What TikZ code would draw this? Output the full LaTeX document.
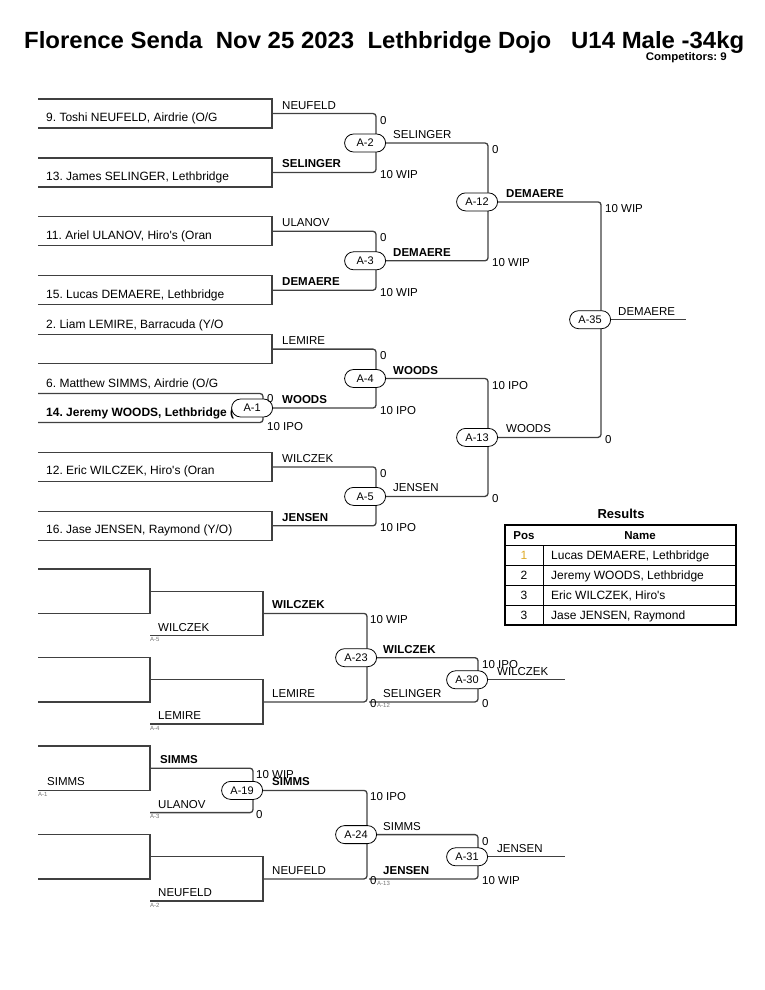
\documentclass[tikz,border=0pt]{standalone}
\usepackage{graphicx}
\usepackage{fontspec}
\setmainfont{Liberation Sans}
\usetikzlibrary{positioning,shapes.misc,backgrounds}
\definecolor{gold}{RGB}{222,170,40}
\frenchspacing

\begin{document}
\begin{tikzpicture}[x=1pt,y=-1pt,
    wire/.style={draw=black!75,line width=1.3pt,rounded corners=3pt},
    slot/.style={draw=black!75,line width=1.3pt},
    bout/.style={rounded rectangle,draw,line width=0.8pt,fill=white,minimum width=41pt,minimum height=18pt,inner sep=0pt,font=\fontsize{11}{13}\selectfont},
    txt/.style={anchor=base west,inner sep=0pt,font=\fontsize{11.5}{13}\selectfont},
    win/.style={txt,font=\fontsize{11.5}{13}\selectfont\bfseries},
    entry/.style={txt,font=\fontsize{12}{14}\selectfont},
    src/.style={anchor=north west,inner sep=0pt,text=black!55,font=\fontsize{6}{6}\selectfont},
    cell/.style={anchor=base,inner sep=0pt,font=\fontsize{12}{14}\selectfont}]
  \useasboundingbox (0,0) rectangle (765,990);

  % header
  \node[anchor=base west,inner sep=0pt] (title) at (24,48.5)
    {\resizebox{720pt}{17pt}{\bfseries Florence Senda\ \ Nov 25 2023\ \ Lethbridge Dojo\ \ \ U14 Male -34kg}};
  \node[anchor=base east,inner sep=0pt] (count) at (727,60.7)
    {\resizebox{81pt}{8pt}{\bfseries Competitors: 9}};

  % first round slots
  \foreach \k/\t in {0/99,1/157.9,2/216.8,3/275.7,4/334.6,6/452.4,7/511.3}{
    \draw[slot] (38,\t) -- (272,\t) -- (272,\t+29) -- (38,\t+29);
    \coordinate (p\k) at (272,\t+14.5);
  }

  % competitors
  \node[entry] (n9) at (46,121.5) {9. Toshi NEUFELD, Airdrie (O/G};
  \node[entry] (n13) at (46,180.4) {13. James SELINGER, Lethbridge};
  \node[entry] (n11) at (46,239.3) {11. Ariel ULANOV, Hiro\textquotesingle s (Oran};
  \node[entry] (n15) at (46,298.2) {15. Lucas DEMAERE, Lethbridge};
  \node[entry] (n2) at (46,328.1) {2. Liam LEMIRE, Barracuda (Y/O};
  \node[entry] (n6) at (46,387) {6. Matthew SIMMS, Airdrie (O/G};
  \node[entry,font=\fontsize{12}{14}\selectfont\bfseries] (n14) at (46,416) {14. Jeremy WOODS, Lethbridge (};
  \node[entry] (n12) at (46,474.9) {12. Eric WILCZEK, Hiro\textquotesingle s (Oran};
  \node[entry] (n16) at (46,533.8) {16. Jase JENSEN, Raymond (Y/O)};

  % match spines
  \coordinate (c1) at (263,408);
  \coordinate (c2) at (376,143);
  \coordinate (c3) at (376,260.8);
  \coordinate (c4) at (376,378.5);
  \coordinate (c5) at (376,496.4);
  \coordinate (c12) at (488,201.9);
  \coordinate (c13) at (488,437.4);
  \coordinate (c35) at (601,319.7);
  \coordinate (c23) at (367,657.7);
  \coordinate (c30) at (478,679.8);
  \coordinate (c19) at (253,790.4);
  \coordinate (c24) at (367,834.6);
  \coordinate (c31) at (478,856.8);
  \coordinate (champ) at (686,319.7);
  \coordinate (w30) at (565,679.8);
  \coordinate (w31) at (565,856.8);
  \coordinate (l12) at (369,701.9);
  \coordinate (l13) at (369,878.9);

  \foreach \m in {1,2,3,4,5,12,13,35,23,30,19,24,31}
    \node[bout,left=-10pt of c\m] (a\m) {A-\m};

  \begin{scope}[on background layer]
    \draw[wire] (38,393.5) -- (263,393.5) -- (263,422.5) -- (38,422.5);
    \draw[wire] (p0) -| (c2) |- (p1);
    \draw[wire] (p2) -| (c3) |- (p3);
    \draw[wire] (p4) -| (c4) |- (a1.east);
    \draw[wire] (p6) -| (c5) |- (p7);
    \draw[wire] (a2.east) -| (c12) |- (a3.east);
    \draw[wire] (a4.east) -| (c13) |- (a5.east);
    \draw[wire] (a12.east) -| (c35) |- (a13.east);
    \draw[wire] (a35.east) -- (champ);
    % repechage
    \foreach \g/\b in {1/569,2/657.5,4/834.5}{
      \draw[slot] (38,\b) -- (150,\b) -- (150,\b+44.4) -- (38,\b+44.4);
      \draw[slot] (150,\b+22.2) -- (263,\b+22.2) -- (263,\b+66.6) -- (150,\b+66.6);
      \coordinate (r\g) at (263,\b+44.4);
    }
    \draw[slot] (38,746) -- (150,746) -- (150,790.4) -- (38,790.4);
    \draw[wire] (150,768.2) -| (c19) |- (150,812.6);
    \draw[wire] (r1) -| (c23) |- (r2);
    \draw[wire] (a23.east) -| (c30) |- (l12);
    \draw[wire] (a30.east) -- (w30);
    \draw[wire] (a19.east) -| (c24) |- (r4);
    \draw[wire] (a24.east) -| (c31) |- (l13);
    \draw[wire] (a31.east) -- (w31);
  \end{scope}

  % names on the lines
  \node[txt] at (282,109) {NEUFELD};
  \node[win] at (282,167.9) {SELINGER};
  \node[txt] at (282,226.8) {ULANOV};
  \node[win] at (282,285.7) {DEMAERE};
  \node[txt] at (282,344.6) {LEMIRE};
  \node[win] at (282,403.5) {WOODS};
  \node[txt] at (282,462.4) {WILCZEK};
  \node[win] at (282,521.3) {JENSEN};
  \node[txt] at (393,138.5) {SELINGER};
  \node[win] at (393,256.3) {DEMAERE};
  \node[win] at (393,374) {WOODS};
  \node[txt] at (393,491.9) {JENSEN};
  \node[win] at (506,197.4) {DEMAERE};
  \node[txt] at (506,432.9) {WOODS};
  \node[txt] at (618,315.2) {DEMAERE};

  % scores
  \node[txt] at (267,402.5) {0};
  \node[txt] at (267,430) {10 IPO};
  \node[txt] at (380,124) {0};
  \node[txt] at (380,178.4) {10 WIP};
  \node[txt] at (380,241.8) {0};
  \node[txt] at (380,296.2) {10 WIP};
  \node[txt] at (380,359.6) {0};
  \node[txt] at (380,414) {10 IPO};
  \node[txt] at (380,477.4) {0};
  \node[txt] at (380,531.8) {10 IPO};
  \node[txt] at (492,153.5) {0};
  \node[txt] at (492,266.8) {10 WIP};
  \node[txt] at (492,389) {10 IPO};
  \node[txt] at (492,502.4) {0};
  \node[txt] at (605,212.4) {10 WIP};
  \node[txt] at (605,443.4) {0};

  % repechage texts
  \node[txt] at (158,631.1) {WILCZEK};
  \node[src] at (150,637.6) {A-5};
  \node[win] at (272,608.9) {WILCZEK};
  \node[txt] at (370,623.9) {10 WIP};
  \node[txt] at (158,719.6) {LEMIRE};
  \node[src] at (150,726.1) {A-4};
  \node[txt] at (272,697.4) {LEMIRE};
  \node[txt] at (370,707.9) {0};
  \node[src] at (377,703) {A-12};
  \node[win] at (383,653.1) {WILCZEK};
  \node[txt] at (482,668.1) {10 IPO};
  \node[txt] at (383,697.4) {SELINGER};
  \node[txt] at (482,707.9) {0};
  \node[txt] at (497,675.3) {WILCZEK};
  \node[txt] at (47,785.9) {SIMMS};
  \node[src] at (38,792.4) {A-1};
  \node[win] at (160,763.7) {SIMMS};
  \node[txt] at (158,808.1) {ULANOV};
  \node[src] at (150,814.6) {A-3};
  \node[txt] at (256,778.7) {10 WIP};
  \node[txt] at (256,818.6) {0};
  \node[win] at (272,785.9) {SIMMS};
  \node[txt] at (370,800.9) {10 IPO};
  \node[txt] at (158,896.6) {NEUFELD};
  \node[src] at (150,903.1) {A-2};
  \node[txt] at (272,874.4) {NEUFELD};
  \node[txt] at (370,884.9) {0};
  \node[src] at (377,881) {A-13};
  \node[txt] at (383,830.1) {SIMMS};
  \node[txt] at (482,845.1) {0};
  \node[win] at (383,874.4) {JENSEN};
  \node[txt] at (482,884.9) {10 WIP};
  \node[txt] at (497,852.2) {JENSEN};

  % results
  \node[cell,font=\fontsize{13}{15}\selectfont\bfseries] (res) at (621,518) {Results};
  \draw[line width=2pt] (505,525) rectangle (736,625);
  \foreach \y in {545,565,585,605} \draw[line width=1pt] (505,\y) -- (736,\y);
  \draw[line width=1pt] (543,545) -- (543,625);
  \node[cell,font=\fontsize{11.5}{13}\selectfont\bfseries] (hpos) at (524,539.5) {Pos};
  \node[cell,font=\fontsize{11.5}{13}\selectfont\bfseries] (hname) at (640,539.5) {Name};
  \node[cell,text=gold] (r1p) at (524,559.5) {1};
  \node[entry] (r1n) at (551,559.5) {Lucas DEMAERE, Lethbridge};
  \node[cell] (r2p) at (524,579.5) {2};
  \node[entry] (r2n) at (551,579.5) {Jeremy WOODS, Lethbridge};
  \node[cell] (r3p) at (524,599.5) {3};
  \node[entry] (r3n) at (551,599.5) {Eric WILCZEK, Hiro\textquotesingle s};
  \node[cell] (r4p) at (524,619.5) {3};
  \node[entry] (r4n) at (551,619.5) {Jase JENSEN, Raymond};
\end{tikzpicture}
\end{document}
